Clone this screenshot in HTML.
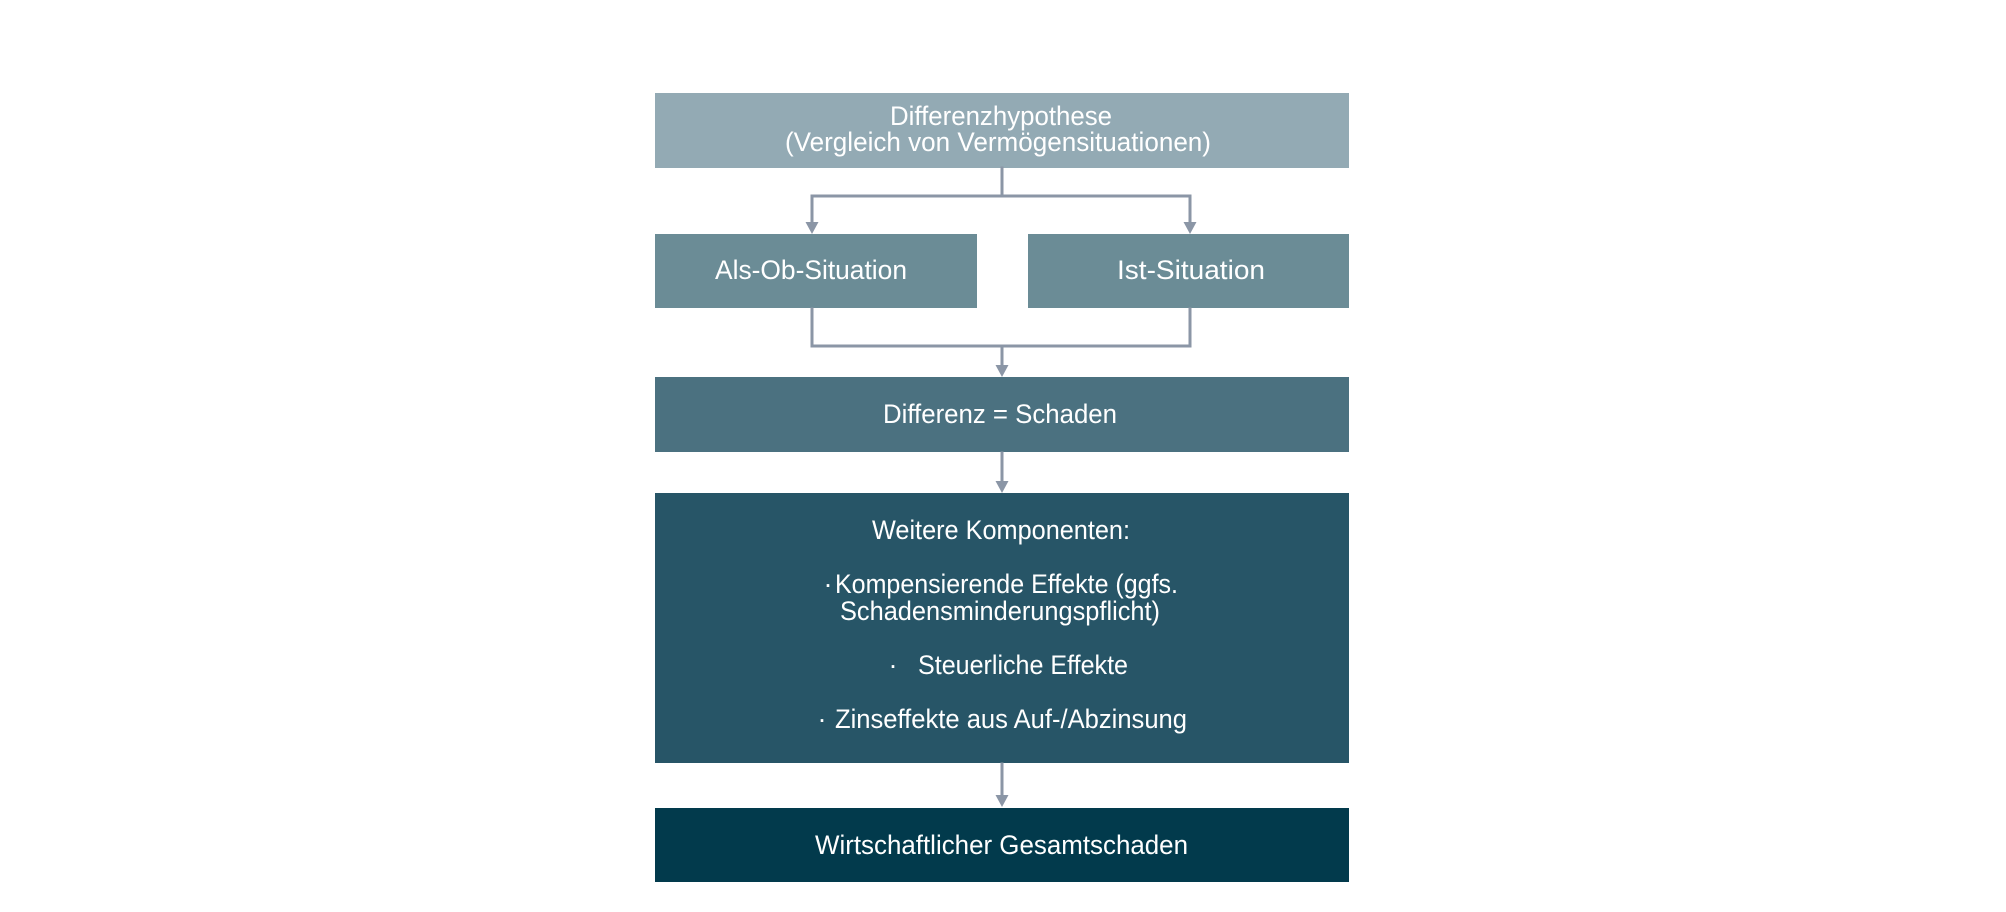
<!DOCTYPE html>
<html>
<head>
<meta charset="utf-8">
<style>
  html, body { margin: 0; padding: 0; background: #ffffff; }
  body { width: 2006px; height: 912px; overflow: hidden; }
  svg { display: block; }
  text { font-family: "Liberation Sans", "DejaVu Sans", sans-serif; font-size: 27px; fill: #ffffff; }
</style>
</head>
<body>
<svg width="2006" height="912" viewBox="0 0 2006 912" xmlns="http://www.w3.org/2000/svg">
  <rect x="0" y="0" width="2006" height="912" fill="#ffffff"/>

  <!-- Boxes -->
  <rect x="655" y="93" width="694" height="75" fill="#93aab4"/>
  <rect x="655" y="234" width="322" height="74" fill="#6b8c96"/>
  <rect x="1028" y="234" width="321" height="74" fill="#6b8c96"/>
  <rect x="655" y="377" width="694" height="75" fill="#4b7180"/>
  <rect x="655" y="493" width="694" height="270" fill="#275567"/>
  <rect x="655" y="808" width="694" height="74" fill="#023a4c"/>

  <!-- Connectors -->
  <g stroke="#8b96a6" stroke-width="3" fill="none" stroke-linecap="square">
    <line x1="1002" y1="168" x2="1002" y2="196"/>
    <line x1="812" y1="196" x2="1190" y2="196"/>
    <line x1="812" y1="196" x2="812" y2="224"/>
    <line x1="1190" y1="196" x2="1190" y2="224"/>
    <line x1="812" y1="309" x2="812" y2="346"/>
    <line x1="1190" y1="309" x2="1190" y2="346"/>
    <line x1="812" y1="346" x2="1190" y2="346"/>
    <line x1="1002" y1="346" x2="1002" y2="367"/>
    <line x1="1002" y1="453" x2="1002" y2="483"/>
    <line x1="1002" y1="764" x2="1002" y2="797"/>
  </g>
  <g fill="#8b96a6">
    <polygon points="805.5,222 818.5,222 812,234"/>
    <polygon points="1183.5,222 1196.5,222 1190,234"/>
    <polygon points="995.5,365 1008.5,365 1002,377"/>
    <polygon points="995.5,481 1008.5,481 1002,493"/>
    <polygon points="995.5,795 1008.5,795 1002,807"/>
  </g>

  <!-- Text -->
  <text x="890" y="125" textLength="222" lengthAdjust="spacingAndGlyphs">Differenzhypothese</text>
  <text x="785" y="151" textLength="426" lengthAdjust="spacingAndGlyphs">(Vergleich von Vermögensituationen)</text>

  <text x="715" y="279" textLength="192" lengthAdjust="spacingAndGlyphs">Als-Ob-Situation</text>
  <text x="1117" y="279" textLength="148" lengthAdjust="spacingAndGlyphs">Ist-Situation</text>

  <text x="883" y="423" textLength="234" lengthAdjust="spacingAndGlyphs">Differenz = Schaden</text>

  <text x="872" y="539" textLength="258" lengthAdjust="spacingAndGlyphs">Weitere Komponenten:</text>
  <text x="828" y="593" text-anchor="middle">·</text>
  <text x="835" y="593" textLength="343" lengthAdjust="spacingAndGlyphs">Kompensierende Effekte (ggfs.</text>
  <text x="840" y="620" textLength="320" lengthAdjust="spacingAndGlyphs">Schadensminderungspflicht)</text>
  <text x="893" y="674" text-anchor="middle">·</text>
  <text x="918" y="674" textLength="210" lengthAdjust="spacingAndGlyphs">Steuerliche Effekte</text>
  <text x="822" y="728" text-anchor="middle">·</text>
  <text x="835" y="728" textLength="352" lengthAdjust="spacingAndGlyphs">Zinseffekte aus Auf-/Abzinsung</text>

  <text x="815" y="854" textLength="373" lengthAdjust="spacingAndGlyphs">Wirtschaftlicher Gesamtschaden</text>
</svg>
</body>
</html>
